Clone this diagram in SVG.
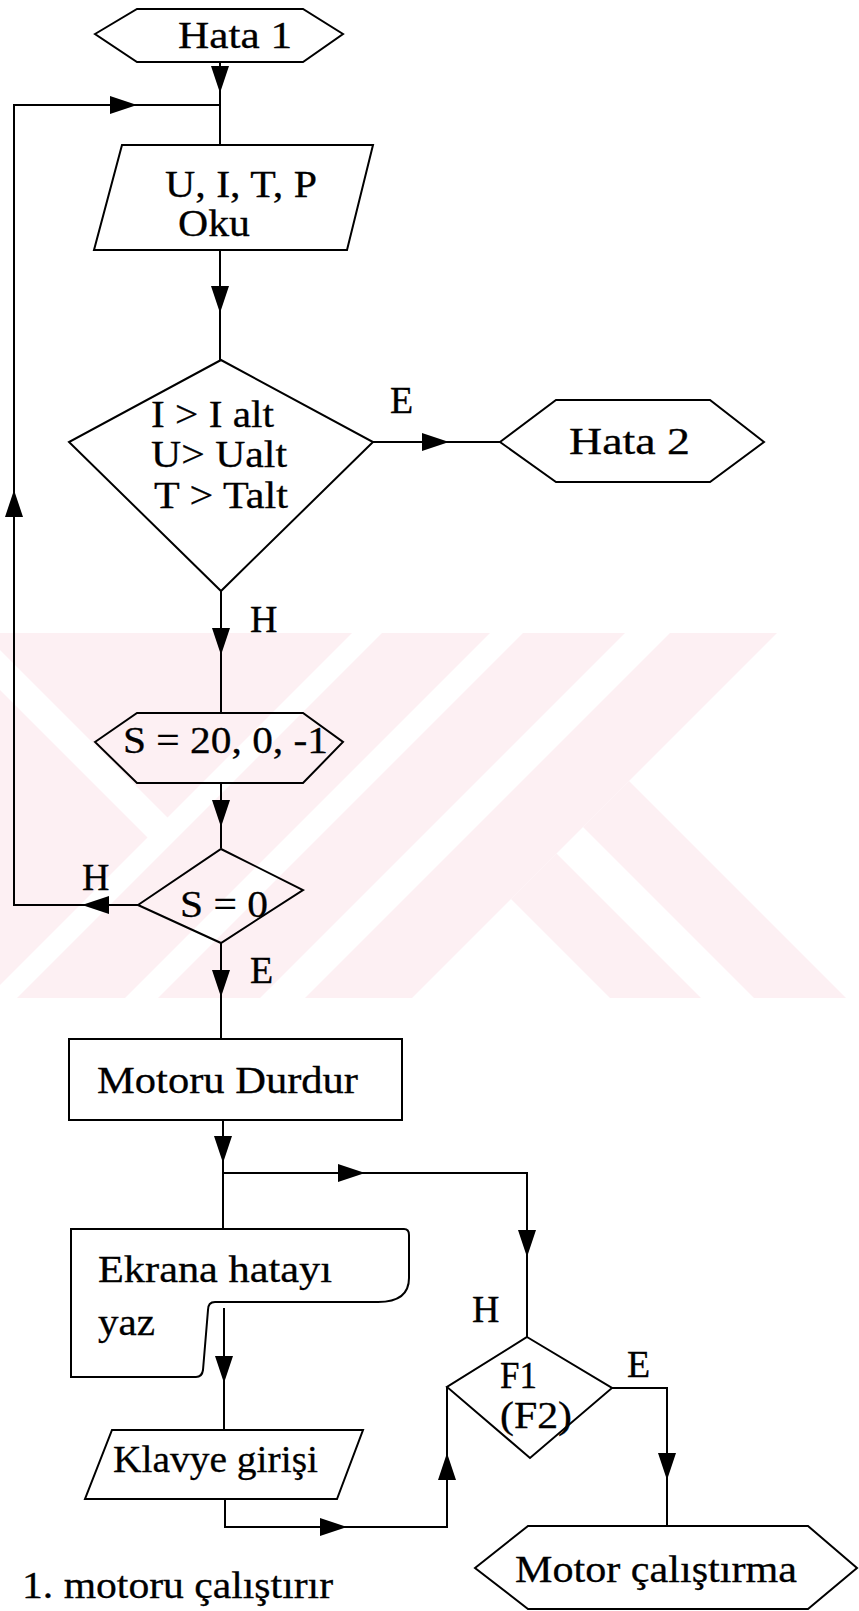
<svg xmlns="http://www.w3.org/2000/svg" width="859" height="1611" viewBox="0 0 859 1611">
<style>
.n{fill:none;stroke:#000;stroke-width:2;stroke-linejoin:miter}
.c{fill:none;stroke:#000;stroke-width:2}
.a{marker-end:url(#ah)}
.t{font-family:"Liberation Serif","Times New Roman",serif;font-size:38px;fill:#000;stroke:#000;stroke-width:0.3}
.wm{fill:#fdf0f3;stroke:none}
</style>
<defs>
<marker id="ah" markerUnits="userSpaceOnUse" markerWidth="28" markerHeight="20" refX="27" refY="10" orient="auto" viewBox="0 0 28 20">
<path d="M0,1 L27,10 L0,19 Z" fill="#000"/>
</marker>
<clipPath id="band"><rect x="0" y="633" width="859" height="365"/></clipPath>
</defs>
<rect x="0" y="0" width="859" height="1611" fill="#fff"/>
<g id="watermark" clip-path="url(#band)">
<polygon class="wm" points="0,600 385,600 167.5,817.5 0,650"/>
<polygon class="wm" points="0,690 147.5,837.5 0,985"/>
<polygon class="wm" points="415,600 523,600 123,1000 15,1000"/>
<polygon class="wm" points="556,600 658,600 258,1000 156,1000"/>
<polygon class="wm" points="703,600 810,600 410,1000 303,1000"/>
<polygon class="wm" points="629,781 848,1000 756,1000 583,827"/>
<polygon class="wm" points="556.5,853.5 703,1000 612,1000 511,899"/>
</g>
<g id="connectors">
<path class="c a" d="M220,62 V93"/>
<path class="c" d="M220,93 V145"/>
<path class="c a" d="M138,905 H82"/>
<path class="c a" d="M82,905 H14 V490"/>
<path class="c a" d="M14,490 V105 H137"/>
<path class="c" d="M137,105 H220"/>
<path class="c a" d="M220,250 V313"/>
<path class="c" d="M220,313 V360"/>
<path class="c a" d="M373,442 H449"/>
<path class="c" d="M449,442 H500"/>
<path class="c a" d="M221,591 V655"/>
<path class="c" d="M221,655 V713"/>
<path class="c a" d="M221,783 V827"/>
<path class="c" d="M221,827 V848"/>
<path class="c a" d="M221,943 V997"/>
<path class="c" d="M221,997 V1039"/>
<path class="c a" d="M223,1120 V1163"/>
<path class="c" d="M223,1163 V1229"/>
<path class="c a" d="M223,1173 H365"/>
<path class="c a" d="M365,1173 H527 V1257"/>
<path class="c" d="M527,1257 V1337"/>
<path class="c a" d="M224,1308 V1383"/>
<path class="c" d="M224,1383 V1430"/>
<path class="c a" d="M225,1499 V1527 H347"/>
<path class="c a" d="M347,1527 H447 V1453"/>
<path class="c" d="M447,1453 V1387"/>
<path class="c a" d="M612,1388 H667 V1480"/>
<path class="c" d="M667,1480 V1526"/>
</g>
<g id="hata1">
<polygon class="n" points="95,34 137,9 303,9 343,34 303,62 137,62"/>
<text class="t" x="178" y="48" textLength="114" lengthAdjust="spacingAndGlyphs">Hata 1</text>
</g>
<g id="oku">
<polygon class="n" points="122,145 373,145 347,250 94,250"/>
<text class="t" x="165" y="197" textLength="152" lengthAdjust="spacingAndGlyphs">U, I, T, P</text>
<text class="t" x="178" y="236" textLength="72" lengthAdjust="spacingAndGlyphs">Oku</text>
</g>
<g id="kontrol">
<polygon class="n" points="221,360 373,442 221,591 69,442"/>
<text class="t" x="151" y="427" textLength="123" lengthAdjust="spacingAndGlyphs">I &gt; I alt</text>
<text class="t" x="151" y="467" textLength="136" lengthAdjust="spacingAndGlyphs">U&gt; Ualt</text>
<text class="t" x="154" y="508" textLength="134" lengthAdjust="spacingAndGlyphs">T &gt; Talt</text>
</g>
<g id="hata2">
<polygon class="n" points="500,442 556,400 710,400 764,442 710,482 556,482"/>
<text class="t" x="569" y="454" textLength="121" lengthAdjust="spacingAndGlyphs">Hata 2</text>
</g>
<g id="dongu">
<polygon class="n" points="95,742 137,713 303,713 343,742 303,783 137,783"/>
<text class="t" x="123" y="753" textLength="205" lengthAdjust="spacingAndGlyphs">S = 20, 0, -1</text>
</g>
<g id="s0">
<polygon class="n" points="221,849 303,890 221,943 138,905"/>
<text class="t" x="180" y="917" textLength="88" lengthAdjust="spacingAndGlyphs">S = 0</text>
</g>
<g id="durdur">
<rect class="n" x="69" y="1039" width="333" height="81"/>
<text class="t" x="97" y="1093" textLength="261" lengthAdjust="spacingAndGlyphs">Motoru Durdur</text>
</g>
<g id="ekran">
<path class="n" d="M71,1229 H404 Q409,1229 409,1235 V1278 Q409,1302 378,1302 H215 Q208,1302 208,1310 L203,1370 Q202,1377 196,1377 H71 Z"/>
<text class="t" x="98" y="1282" textLength="234" lengthAdjust="spacingAndGlyphs">Ekrana hatayı</text>
<text class="t" x="98" y="1335" textLength="57" lengthAdjust="spacingAndGlyphs">yaz</text>
</g>
<g id="klavye">
<polygon class="n" points="112,1430 363,1430 337,1499 85,1499"/>
<text class="t" x="113" y="1472" textLength="205" lengthAdjust="spacingAndGlyphs">Klavye girişi</text>
</g>
<g id="f1">
<polygon class="n" points="527,1337 612,1388 530,1458 447,1387"/>
<text class="t" x="500" y="1388" textLength="37" lengthAdjust="spacingAndGlyphs">F1</text>
<text class="t" x="500" y="1428" textLength="72" lengthAdjust="spacingAndGlyphs">(F2)</text>
</g>
<g id="motor">
<polygon class="n" points="475,1568 528,1526 808,1526 857,1568 808,1609 528,1609"/>
<text class="t" x="515" y="1582" textLength="282" lengthAdjust="spacingAndGlyphs">Motor çalıştırma</text>
</g>
<g id="labels">
<text class="t" x="390" y="413">E</text>
<text class="t" x="250" y="632">H</text>
<text class="t" x="82" y="890">H</text>
<text class="t" x="250" y="983">E</text>
<text class="t" x="472" y="1322">H</text>
<text class="t" x="627" y="1377">E</text>
<text class="t" x="22" y="1598" textLength="311" lengthAdjust="spacingAndGlyphs">1. motoru çalıştırır</text>
</g>
</svg>
